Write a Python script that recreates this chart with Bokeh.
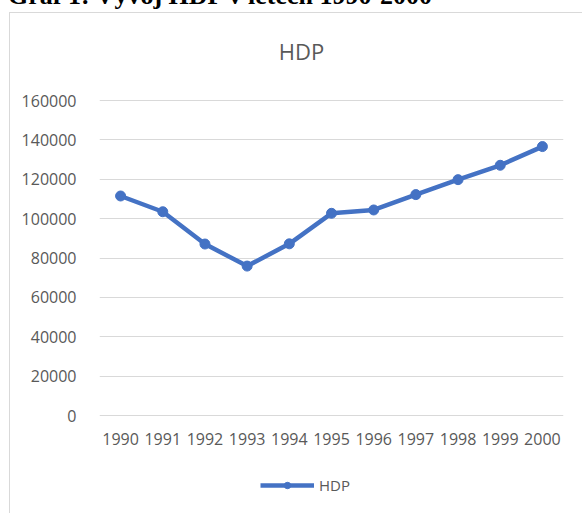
from bokeh.plotting import figure
from bokeh.layouts import column
from bokeh.models import FactorRange, Range1d, Legend, LegendItem, FixedTicker, ColumnDataSource, Label, Div
from bokeh.embed import file_html
from bokeh.resources import INLINE

heading = "Graf 1: Vývoj HDP v letech 1990-2000"
years = ["1990", "1991", "1992", "1993", "1994", "1995", "1996", "1997", "1998", "1999", "2000"]
hdp = [111500, 103500, 87100, 75900, 87200, 102700, 104400, 112200, 119800, 127100, 136600]
y_ticks = [0, 20000, 40000, 60000, 80000, 100000, 120000, 140000, 160000]

FONT = "Open Sans"
TXT = "#595959"
BLUE = "#4472C4"
GRID = "#d9d9d9"

# layout (pixels inside the figure): the plot frame spans the full height so that
# title and legend, drawn inside it, are not clipped
W, H = 573, 501
LEFT, RIGHT = 89, 20
AXIS_PX_0, AXIS_PX_TOP = 402, 87          # pixel rows of value 0 and of the top tick
y_top_val = y_ticks[-1]
per_px = (y_top_val - y_ticks[0]) / (AXIS_PX_0 - AXIS_PX_TOP)
y_start = y_ticks[0] - (H - AXIS_PX_0) * per_px
y_end = y_top_val + AXIS_PX_TOP * per_px

head = Div(text=f'<div style="position:relative;top:-17px;left:8px;white-space:nowrap;'
                f'font-family:\'Liberation Serif\';font-weight:bold;font-size:26px;line-height:26px;color:#000">'
                f'{heading}</div>',
           width=583, height=12, margin=0, styles={"overflow": "hidden"})

p = figure(width=W, height=H, x_range=FactorRange(*years, range_padding=0),
           y_range=Range1d(y_start, y_end), output_backend="svg", toolbar_location=None,
           x_axis_location=None,
           min_border_left=LEFT, min_border_right=RIGHT, min_border_top=0, min_border_bottom=0)
p.styles = {"margin-left": "9px",
            "border-left": "1px solid #d9d9d9", "border-top": "1px solid #d9d9d9"}
p.outline_line_color = None
p.background_fill_color = "white"
p.border_fill_color = "white"

src = ColumnDataSource(dict(x=years, y=hdp))
r_line = p.line("x", "y", source=src, line_color=BLUE, line_width=4.5)
r_pts = p.scatter("x", "y", source=src, marker="circle", size=10, fill_color=BLUE, line_color=BLUE)

# category labels under the zero line
lab_src = ColumnDataSource(dict(x=years, y=[y_ticks[0]] * len(years), t=years))
p.text("x", "y", text="t", source=lab_src, text_align="center", text_baseline="alphabetic",
       y_offset=23, text_font={"value": FONT}, text_font_size="16px", text_color=TXT)

p.xgrid.grid_line_color = None
p.ygrid.ticker = FixedTicker(ticks=y_ticks)
p.ygrid.grid_line_color = GRID
p.ygrid.grid_line_width = 1
p.yaxis.ticker = FixedTicker(ticks=y_ticks)
p.yaxis.axis_line_color = None
p.yaxis.major_tick_line_color = None
p.yaxis.minor_tick_line_color = None
p.yaxis.major_label_standoff = 17
p.yaxis.major_label_text_font = FONT
p.yaxis.major_label_text_font_size = "16px"
p.yaxis.major_label_text_color = TXT
p.yaxis.formatter.use_scientific = False

title = Label(x=202, y=H - 37, x_units="screen", y_units="screen", text="HDP",
              text_align="center", text_baseline="alphabetic", text_font=FONT,
              text_font_size="22px", text_color=TXT)
p.add_layout(title)

legend = Legend(items=[LegendItem(label="HDP", renderers=[r_line, r_pts])],
                location=(161, 19), orientation="horizontal",
                glyph_width=54, glyph_height=16, label_height=16, label_standoff=5,
                padding=0, margin=0, spacing=0,
                border_line_color=None, background_fill_alpha=0,
                label_text_font=FONT, label_text_font_size="15px", label_text_color=TXT)
p.add_layout(legend, "center")

layout = column(head, p, spacing=0)
open("out.html", "w").write(file_html(layout, INLINE))
